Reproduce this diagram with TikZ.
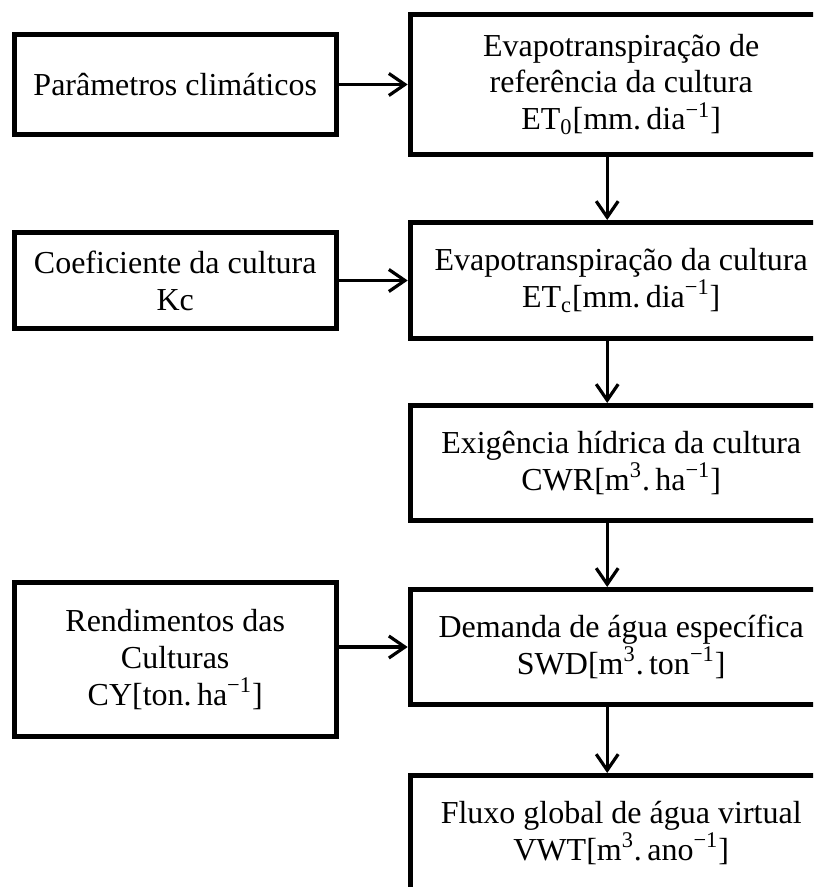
\documentclass[tikz,border=0pt]{standalone}
\usepackage{fontspec}
\setmainfont{Liberation Serif}
\usetikzlibrary{arrows.meta,positioning}

\begin{document}
\begin{tikzpicture}[->,>={Straight Barb[length=8pt,width=11pt]},line width=1.6pt,
                    node distance=31.5pt and 34.5pt]
  \tikzstyle{etapa}=[draw, line width=2.5pt, outer sep=1.25pt, align=center,
                     minimum width=211pt, minimum height=57.5pt, inner sep=2pt,
                     font=\fontsize{16}{18.4}\selectfont]
  \tikzstyle{entrada}=[etapa, minimum width=161pt]

  \useasboundingbox (0,0) rectangle (406.5pt,-443.5pt);
  \clip (0,0) rectangle (406.5pt,-443.5pt);

  \node[etapa, minimum height=70pt] (ET0) at (310.6pt,-42.25pt)
       {Evapotranspiração de\\referência da cultura\\ET\textsubscript{0}[mm.\,dia\textsuperscript{−1}]};
  \node[etapa, minimum height=58pt] (ETc) [below=31.5pt of ET0]
       {Evapotranspiração da cultura\\ET\textsubscript{c}[mm.\,dia\textsuperscript{−1}]};
  \node[etapa] (CWR) [below=31pt of ETc]
       {Exigência hídrica da cultura\\CWR[m\textsuperscript{3}.\,ha\textsuperscript{−1}]};
  \node[etapa] (SWD) [below=32pt of CWR]
       {Demanda de água específica\\SWD[m\textsuperscript{3}.\,ton\textsuperscript{−1}]};
  \node[etapa] (VWT) [below=33pt of SWD]
       {Fluxo global de água virtual\\VWT[m\textsuperscript{3}.\,ano\textsuperscript{−1}]};

  \node[entrada, minimum height=50pt] (clima) [left=of ET0] {Parâmetros climáticos};
  \node[entrada, minimum height=47.5pt] (Kc) [left=of ETc] {Coeficiente da cultura\\Kc};
  \node[entrada, minimum height=77pt] (CY) [left=of SWD, yshift=-6.25pt]
       {Rendimentos das\\Culturas\\CY[ton.\,ha\textsuperscript{−1}]};

  \path (clima.east)        edge (clima.east -| ET0.west)
        (Kc.east)           edge (Kc.east -| ETc.west)
        (CY.east |- SWD.west) edge (SWD.west);
  \path ([xshift=-7pt]ET0.south) edge ([xshift=-7pt]ETc.north)
        ([xshift=-7pt]ETc.south) edge ([xshift=-7pt]CWR.north)
        ([xshift=-7pt]CWR.south) edge ([xshift=-7pt]SWD.north)
        ([xshift=-7pt]SWD.south) edge ([xshift=-7pt]VWT.north);
\end{tikzpicture}
\end{document}
